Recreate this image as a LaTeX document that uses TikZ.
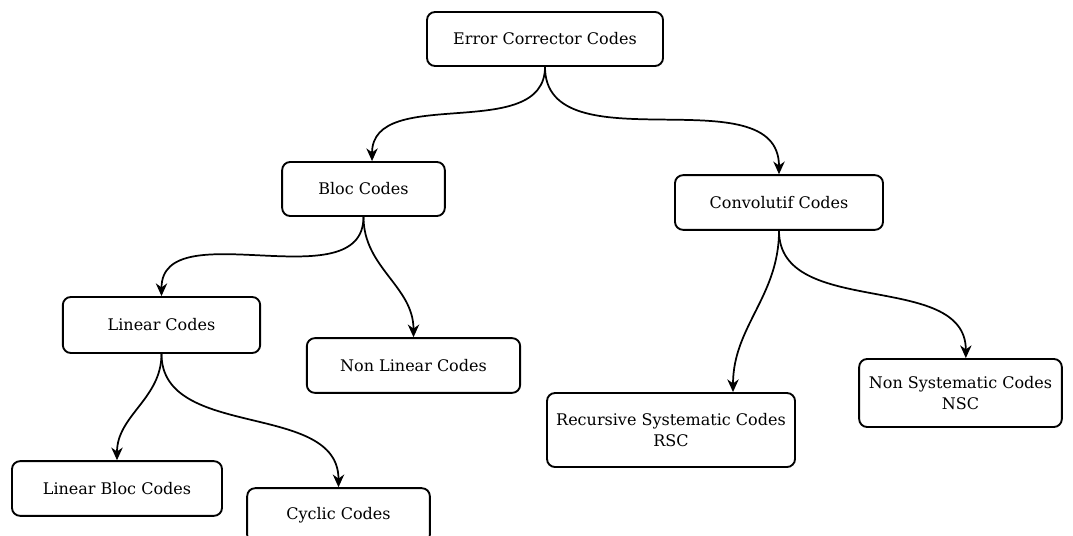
\documentclass[tikz,border=0pt]{standalone}
\usepackage{fontspec}
\setmainfont{DejaVu Serif}
\usetikzlibrary{positioning,arrows.meta}

\tikzset{
	codebox/.style={draw, line width=1.4pt, rounded corners=6pt, align=center, inner sep=2pt, font=\fontsize{12pt}{16pt}\selectfont},
	branch/.style={line width=1.3pt, -{Stealth[length=9.5pt,width=8.5pt,inset=3pt]}}
}

\begin{document}
\begin{tikzpicture}[x=0.75pt,y=-0.75pt]
			\useasboundingbox (0,0) rectangle (1073,535);
			
			% tree of codes
			\node[codebox, minimum width=177pt, minimum height=40.5pt] (ecc) at (545,39) {Error Corrector Codes};
			
			\node[codebox, minimum width=122pt, minimum height=40.5pt] (bloc) at (363.5,189) {Bloc Codes};
			\node[codebox, minimum width=156pt, minimum height=41pt] (conv) at (779,202.5) {Convolutif Codes};
			
			\node[codebox, minimum width=148pt, minimum height=42pt] (lin) at (161.5,325) {Linear Codes};
			\node[codebox, minimum width=160pt, minimum height=41pt] (nonlin) at (413.5,365.5) {Non Linear Codes};
			
			\node[codebox, minimum width=157.5pt, minimum height=41pt] (linbloc) at (117,488.5) {Linear Bloc Codes};
			\node[codebox, minimum width=137pt, minimum height=41pt] (cyclic) at (338.5,515.5) {Cyclic Codes};
			
			\node[codebox, minimum width=186pt, minimum height=55.5pt] (rsc) at (671,430) {Recursive Systematic Codes\\RSC};
			\node[codebox, minimum width=152pt, minimum height=51pt] (nsc) at (960.5,393) {Non Systematic Codes\\NSC};
			
			% branches
			\draw[branch] (ecc.south) to[out=-90,in=90] ([xshift=6.4pt]bloc.north);
			\draw[branch] (ecc.south) to[out=-90,in=90] (conv.north);
			\draw[branch] (bloc.south) to[out=-90,in=90] (lin.north);
			\draw[branch] (bloc.south) to[out=-90,in=90] (nonlin.north);
			\draw[branch] (lin.south) to[out=-90,in=90] (linbloc.north);
			\draw[branch] (lin.south) to[out=-90,in=90] (cyclic.north);
			\draw[branch] (conv.south) to[out=-90,in=90] ([xshift=46.5pt]rsc.north);
			\draw[branch] (conv.south) to[out=-90,in=90] ([xshift=4pt]nsc.north);
		\end{tikzpicture}
\end{document}
